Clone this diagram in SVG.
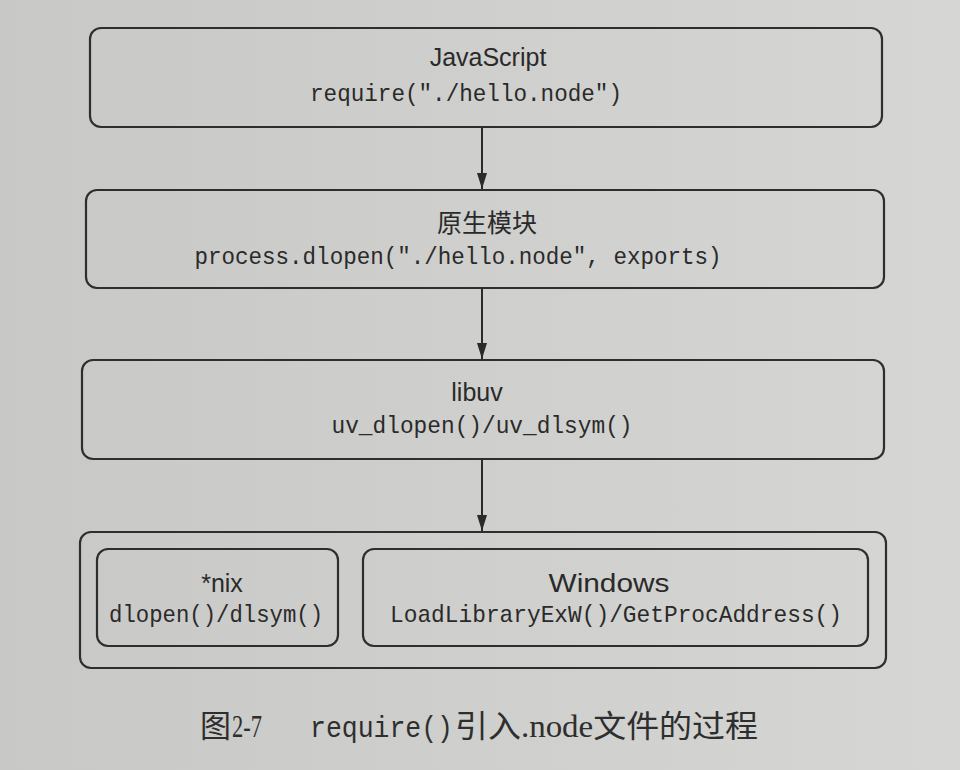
<svg xmlns="http://www.w3.org/2000/svg" width="960" height="770" viewBox="0 0 960 770">
<defs>
<linearGradient id="bg" x1="0" y1="0" x2="1" y2="0">
<stop offset="0" stop-color="#c8c8c6"/>
<stop offset="1" stop-color="#d6d6d4"/>
</linearGradient>
<marker id="arr" viewBox="0 0 16 10" refX="16" refY="5" markerWidth="16" markerHeight="10" markerUnits="userSpaceOnUse" orient="auto">
<path d="M0,0 L16,5 L0,10 Z" fill="#2a2a2a"/>
</marker>
</defs>
<style>
.box{fill:none;stroke:#2e2e2e;stroke-width:2.2}
.t{font-family:"Liberation Sans","Noto Sans CJK SC",sans-serif;font-size:25px;fill:#2a2a2a;text-anchor:middle}
.m{font-family:"Liberation Mono","DejaVu Sans Mono",monospace;font-size:24px;fill:#2a2a2a;text-anchor:middle}
.c{stroke:#2a2a2a;stroke-width:2;fill:none}
.cap{font-family:"Liberation Serif","Noto Sans CJK SC",serif;font-size:31px;fill:#2e2e2e}
.capm{font-family:"Liberation Mono",monospace;font-size:29px;fill:#2e2e2e}
</style>
<rect width="960" height="770" fill="url(#bg)"/>
<g id="connectors">
<line class="c" x1="482" y1="128" x2="482" y2="189" marker-end="url(#arr)"/>
<line class="c" x1="482" y1="289" x2="482" y2="359" marker-end="url(#arr)"/>
<line class="c" x1="482" y1="460" x2="482" y2="531" marker-end="url(#arr)"/>
</g>
<g id="javascript">
<rect class="box" x="90" y="28" width="792" height="99" rx="11"/>
<text class="t" x="488" y="66">JavaScript</text>
<text class="m" x="466" y="101" textLength="312" lengthAdjust="spacingAndGlyphs">require("./hello.node")</text>
</g>
<g id="native">
<rect class="box" x="86" y="190" width="798" height="98" rx="11"/>
<text class="t" x="487" y="232">原生模块</text>
<text class="m" x="458" y="264" textLength="527" lengthAdjust="spacingAndGlyphs">process.dlopen("./hello.node", exports)</text>
</g>
<g id="libuv">
<rect class="box" x="82" y="360" width="802" height="99" rx="11"/>
<text class="t" x="477" y="401">libuv</text>
<text class="m" x="482" y="433" textLength="301" lengthAdjust="spacingAndGlyphs">uv_dlopen()/uv_dlsym()</text>
</g>
<g id="platform">
<rect class="box" x="80" y="532" width="806" height="136" rx="11"/>
</g>
<g id="nix">
<rect class="box" x="97" y="549" width="241" height="97" rx="11"/>
<text class="t" x="222" y="592">*nix</text>
<text class="m" x="216" y="622" textLength="214" lengthAdjust="spacingAndGlyphs">dlopen()/dlsym()</text>
</g>
<g id="windows">
<rect class="box" x="363" y="549" width="505" height="97" rx="11"/>
<text class="t" x="609" y="592" textLength="121" lengthAdjust="spacingAndGlyphs">Windows</text>
<text class="m" x="616" y="622" textLength="452" lengthAdjust="spacingAndGlyphs">LoadLibraryExW()/GetProcAddress()</text>
</g>
<g id="caption">
<text class="cap" x="200" y="737">图<tspan x="232" textLength="30" lengthAdjust="spacingAndGlyphs">2-7</tspan></text>
<text class="capm" x="310" y="737" textLength="143" lengthAdjust="spacingAndGlyphs">require()</text>
<text class="cap" x="455" y="737" textLength="303" lengthAdjust="spacingAndGlyphs">引入.node文件的过程</text>
</g>
</svg>
